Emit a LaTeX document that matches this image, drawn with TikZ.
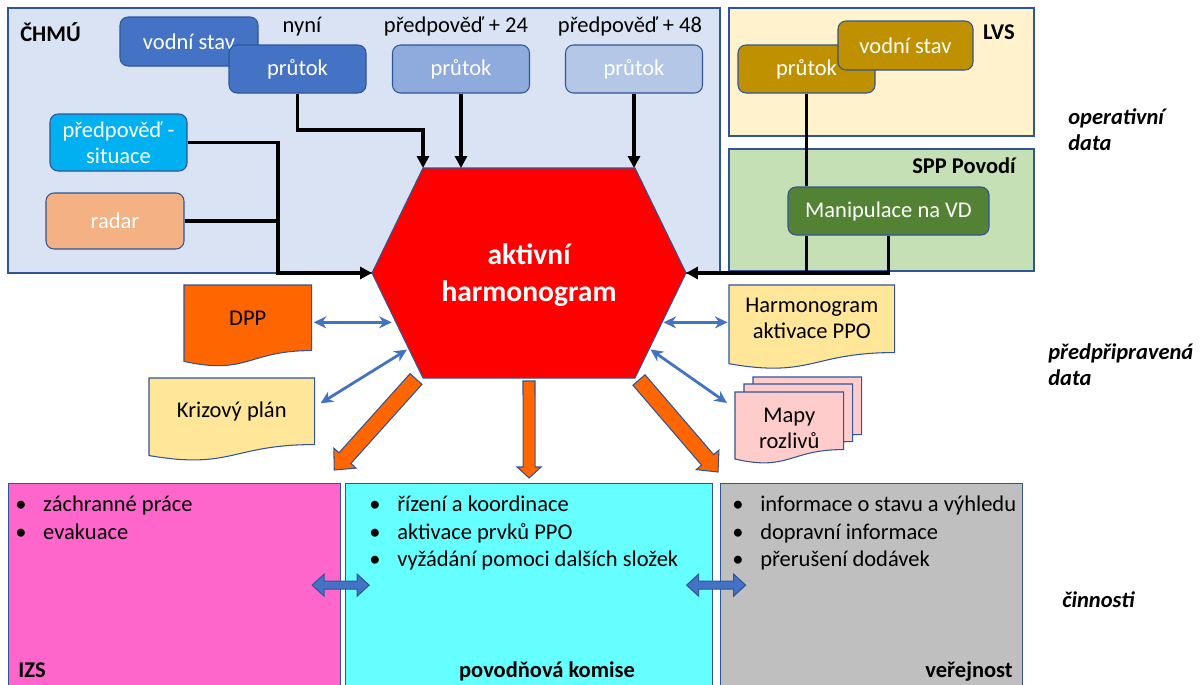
\documentclass[tikz,border=0pt]{standalone}
\usepackage{fontspec}
\setmainfont{Carlito}
\usepackage{tikz}
\usetikzlibrary{calc,arrows.meta,positioning}
\pgfdeclarelayer{background}
\pgfsetlayers{background,main}
\definecolor{hmBlue}{RGB}{68,114,196}
\definecolor{hmBlueMid}{RGB}{143,170,220}
\definecolor{hmBlueLight}{RGB}{180,199,231}
\definecolor{hmFrame}{RGB}{47,85,151}
\definecolor{hmPanel}{RGB}{218,227,243}
\definecolor{hmCyan}{RGB}{0,176,240}
\definecolor{hmSalmon}{RGB}{244,177,131}
\definecolor{hmRed}{RGB}{255,0,0}
\definecolor{hmCream}{RGB}{255,242,204}
\definecolor{hmGold}{RGB}{191,144,0}
\definecolor{hmSage}{RGB}{197,224,180}
\definecolor{hmGreen}{RGB}{84,130,53}
\definecolor{hmOrange}{RGB}{255,102,0}
\definecolor{hmYellow}{RGB}{255,230,153}
\definecolor{hmPink}{RGB}{255,204,204}
\definecolor{hmMagenta}{RGB}{255,102,204}
\definecolor{hmAqua}{RGB}{102,255,255}
\definecolor{hmGray}{RGB}{191,191,191}
\newcommand{\pxu}{0.025cm}
\newcommand{\bul}{\makebox[19.9pt][l]{•}}
% document outline with wavy bottom, behind the named node
\newcommand{\docshape}[2]{%
\begin{pgfonlayer}{background}
\filldraw[fill=#1, draw=hmFrame, line width=0.75pt] (#2.north west) -- (#2.north east) -- (#2.south east)
  .. controls (#2.south) and ($(#2.south)!-0.38!(#2.north)$) .. ($(#2.south west)!-0.165!(#2.north west)$) -- cycle;
\end{pgfonlayer}}
% block arrow: style, tail, tip, shaft half, head half, head length (px)
\newcommand{\blockarrow}[6]{%
\coordinate (ba-h) at ($(#3)!#6*\pxu!(#2)$);
\filldraw[#1] ($(#2)!#4*\pxu!90:(#3)$) -- ($(ba-h)!#4*\pxu!90:(#3)$) -- ($(ba-h)!#5*\pxu!90:(#3)$) -- (#3)
  -- ($(ba-h)!#5*\pxu!-90:(#3)$) -- ($(ba-h)!#4*\pxu!-90:(#3)$) -- ($(#2)!#4*\pxu!-90:(#3)$) -- cycle;}
% double block arrow: style, end a, end b, shaft half, head half, head length (px)
\newcommand{\twinarrow}[6]{%
\coordinate (ta-a) at ($(#2)!#6*\pxu!(#3)$);
\coordinate (ta-b) at ($(#3)!#6*\pxu!(#2)$);
\filldraw[#1] (#2) -- ($(ta-a)!#5*\pxu!90:(#3)$) -- ($(ta-a)!#4*\pxu!90:(#3)$) -- ($(ta-b)!#4*\pxu!-90:(#2)$)
  -- ($(ta-b)!#5*\pxu!-90:(#2)$) -- (#3) -- ($(ta-b)!#5*\pxu!90:(#2)$) -- ($(ta-b)!#4*\pxu!90:(#2)$)
  -- ($(ta-a)!#4*\pxu!-90:(#3)$) -- ($(ta-a)!#5*\pxu!-90:(#3)$) -- cycle;}

\begin{document}
\fontsize{16}{18.5}\selectfont
\begin{tikzpicture}[x=0.025cm, y=-0.025cm,
  panel/.style={draw=hmFrame, line width=0.9pt},
  databox/.style={draw=hmFrame, line width=0.75pt, rounded corners=0.2cm, text=white, inner sep=0,
    minimum width=137*\pxu, minimum height=48*\pxu, align=center},
  tag/.style={inner sep=0},
  heading/.style={inner sep=0, font=\bfseries},
  docbox/.style={inner sep=0, align=center, anchor=north west},
  bullets/.style={inner sep=0, align=left, anchor=north west, font=\fontsize{16}{19.5}\selectfont},
  sidenote/.style={inner sep=0, align=left, anchor=west, font=\bfseries\itshape},
  hub/.style={inner sep=0, align=center, text=white, font=\fontsize{21}{26.3}\selectfont\bfseries},
  wire/.style={line width=2.2pt},
  wirearrow/.style={wire, -{Triangle[length=8.5pt, width=8.5pt]}},
  bluelink/.style={draw=hmBlue, line width=2pt, {Stealth[length=9pt, width=8.5pt]}-{Stealth[length=9pt, width=8.5pt]}},
  orangearrow/.style={fill=hmOrange, draw=hmFrame, line width=0.75pt},
  twinstyle/.style={fill=hmBlue, draw=hmFrame, line width=0.75pt}]
\useasboundingbox (0,0) rectangle (1202,684);

% panels of data sources
\filldraw[panel, fill=hmPanel] (8,8) rectangle (720,273);
\filldraw[panel, fill=hmCream] (729,8) rectangle (1034,136);
\filldraw[panel, fill=hmSage] (729,149) rectangle (1034,271);
\node[heading, anchor=base west] (chmuName) at (20,41) {ČHMÚ};
\node[heading, anchor=base east] (lvsName) at (1015,39) {LVS};
\node[heading, anchor=base east] (sppName) at (1016,173) {SPP Povodí};

\node[tag, anchor=base] (nowLabel) at (302,32) {nyní};
\node[tag, anchor=base] (p24Label) at (456,32) {předpověď + 24};
\node[tag, anchor=base] (p48Label) at (630,32) {předpověď + 48};

\node[databox, fill=hmBlue, minimum width=138*\pxu, minimum height=49*\pxu] (nowH) at (189,41.5) {vodní stav};
\node[databox, fill=hmBlue] (nowQ) at (297.5,69) {průtok};
\node[databox, fill=hmBlueMid] (q24) at (461,69) {průtok};
\node[databox, fill=hmBlueLight] (q48) at (634,69) {průtok};
\node[databox, fill=hmCyan, minimum height=57*\pxu] (situace) at (118.5,142.5) {předpověď -\\situace};
\node[databox, fill=hmSalmon, minimum width=138*\pxu, minimum height=56*\pxu] (radar) at (115,221) {radar};

\node[databox, fill=hmGold] (lvsQ) at (806.5,69) {průtok};
\node[databox, fill=hmGold, minimum width=135*\pxu, minimum height=49*\pxu] (lvsH) at (905.5,45.5) {vodní stav};
\node[databox, fill=hmGreen, minimum width=201*\pxu] (manip) at (888.5,211) {Manipulace na VD};

% central hexagon
\coordinate (hexTL) at (423,168);
\coordinate (hexTR) at (635,168);
\coordinate (hexR) at (686,273);
\coordinate (hexBR) at (635,378);
\coordinate (hexBL) at (423,378);
\coordinate (hexL) at (372,273);
\coordinate (hexB) at ($(hexBL)!0.5!(hexBR)$);
\filldraw[fill=hmRed, draw=hmFrame, line width=0.75pt] (hexTL) -- (hexTR) -- (hexR) -- (hexBR) -- (hexBL) -- (hexL) -- cycle;
\node[hub] (hex) at (529,275) {aktivní\\harmonogram};

% operative data feeds
\coordinate (junction) at (278,273);
\draw[wirearrow] (nowQ.south) |- ($(hexTL)+(0,-38)$) -- (hexTL);
\draw[wirearrow] (q24.south) -- (q24.south |- hexTL);
\draw[wirearrow] (q48.south) -- (q48.south |- hexTL);
\draw[wire] (radar.east) -- (radar.east -| junction);
\draw[wirearrow] (situace.east) -| (junction) -- (hexL);
\draw[wire] (lvsQ.south) -- (lvsQ.south |- manip.north);
\draw[wire] (lvsQ.south |- manip.south) -- (lvsQ.south |- hexR);
\draw[wirearrow] (manip.south) |- (hexR);

% prepared documents
\node[docbox, minimum width=127*\pxu, minimum height=65*\pxu] (dpp) at (184,285) {DPP};
\docshape{hmOrange}{dpp}
\node[docbox, minimum width=165*\pxu, minimum height=66*\pxu] (krizovy) at (149,378) {Krizový plán};
\docshape{hmYellow}{krizovy}
\node[docbox, minimum width=165*\pxu, minimum height=67*\pxu] (harm) at (729,285) {Harmonogram\\aktivace PPO};
\docshape{hmYellow}{harm}
\node[docbox, minimum width=108*\pxu, minimum height=57*\pxu] (mapyC) at (753,377) {};
\docshape{hmPink}{mapyC}
\node[docbox, minimum width=108*\pxu, minimum height=57*\pxu] (mapyB) at (744,384) {};
\docshape{hmPink}{mapyB}
\node[docbox, minimum width=108*\pxu, minimum height=57*\pxu] (mapyA) at (735,392) {};
\docshape{hmPink}{mapyA}
\node[tag, align=center] (mapyText) at ($(mapyA.center)+(0,8)$) {Mapy\\rozlivů};

\coordinate (hexDpp) at ($(hexL)!0.47!(hexBL)$);
\coordinate (hexPlan) at ($(hexL)!0.72!(hexBL)$);
\coordinate (hexHarm) at ($(hexR)!0.47!(hexBR)$);
\coordinate (hexMaps) at ($(hexR)!0.72!(hexBR)$);
\draw[bluelink, shorten <=1.5pt, shorten >=3pt] (dpp.east |- hexDpp) -- (hexDpp);
\draw[bluelink, shorten >=1.5pt] ($(krizovy.east)+(6,-8)$) -- (hexPlan);
\draw[bluelink, shorten <=1pt, shorten >=1pt] (hexHarm) -- (harm.west |- hexHarm);
\draw[bluelink, shorten <=1pt] (hexMaps) -- ($(mapyA.north west)+(-8,11)$);

% activities
\node[panel, fill=hmMagenta, minimum width=332*\pxu, minimum height=207*\pxu, anchor=north west, inner sep=0] (izs) at (8,483) {};
\node[panel, fill=hmAqua, minimum width=367*\pxu, minimum height=207*\pxu, anchor=north west, inner sep=0] (komise) at (345,483) {};
\node[panel, fill=hmGray, minimum width=302*\pxu, minimum height=207*\pxu, anchor=north west, inner sep=0] (verejnost) at (720,483) {};

\node[bullets] (izsList) at (15,496) {\bul záchranné práce\\\bul evakuace};
\node[bullets] (komiseList) at (369,496) {\bul řízení a koordinace\\\bul aktivace prvků PPO\\\bul vyžádání pomoci dalších složek};
\node[bullets] (verejList) at (732,496) {\bul informace o stavu a výhledu\\\bul dopravní informace\\\bul přerušení dodávek};
\node[heading, anchor=base west] (izsName) at (18,677) {IZS};
\node[heading, anchor=base] (komiseName) at (547,677) {povodňová komise};
\node[heading, anchor=base east] (verejName) at (1013,677) {veřejnost};

\coordinate (oaTailL) at ($(hexBL)+(-7,1)$);
\coordinate (oaTipL) at ($(izs.north east)+(-7,-13)$);
\coordinate (oaTailM) at ($(hexB)+(0,3)$);
\coordinate (oaTipM) at ($(komise.north)+(0,-5)$);
\coordinate (oaTailR) at ($(hexBR)+(4,2)$);
\coordinate (oaTipR) at ($(verejnost.north west)+(-2,-11)$);
\blockarrow{orangearrow}{oaTailL}{oaTipL}{8}{15}{16}
\blockarrow{orangearrow}{oaTailM}{oaTipM}{6}{12}{11}
\blockarrow{orangearrow}{oaTailR}{oaTipR}{8}{15}{16}

\coordinate (gapL) at ($(izs.east)!0.5!(komise.west)$);
\coordinate (gapR) at ($(komise.east)!0.5!(verejnost.west)$);
\twinarrow{twinstyle}{$(gapL)+(-31,-2)$}{$(gapL)+(26,-2)$}{4}{11}{12}
\twinarrow{twinstyle}{$(gapR)+(-30,-2)$}{$(gapR)+(29,-2)$}{4}{11}{12}

% side captions
\node[sidenote] (opLabel) at (1068,130) {operativní\\data};
\node[sidenote] (prepLabel) at (1048,365) {předpřipravená\\data};
\node[sidenote] (actLabel) at (1062,600) {činnosti};
\end{tikzpicture}
\end{document}
